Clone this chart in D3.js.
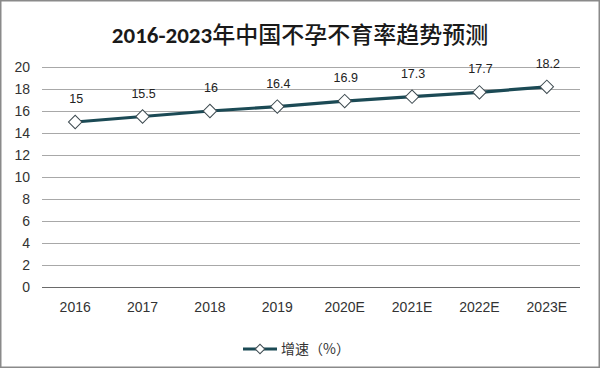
<!DOCTYPE html>
<html><head><meta charset="utf-8">
<script src="https://cdn.jsdelivr.net/npm/d3@7"></script>
<style>body{margin:0;background:#fff;}svg{display:block;}</style>
</head><body>
<svg id="c" width="600" height="368"></svg>
<script>
const categories = ["2016","2017","2018","2019","2020E","2021E","2022E","2023E"];
const values = [15, 15.5, 16, 16.4, 16.9, 17.3, 17.7, 18.2];
const yTicks = [0,2,4,6,8,10,12,14,16,18,20];
const titleYears = "2016-2023";
const titleRest = "年中国不孕不育率趋势预测";
const seriesName = "增速（%）";

const svg = d3.select("#c");
const font = "'Liberation Sans', Arial, 'Noto Sans CJK SC', sans-serif";
svg.append("rect").attr("x",0.75).attr("y",0.75).attr("width",598.5).attr("height",366.5)
  .attr("fill","#fff").attr("stroke","#8a8a8a").attr("stroke-width",1.5);

const t = svg.append("text").attr("x",300).attr("y",43).attr("text-anchor","middle")
  .attr("font-size",23).attr("fill","#1a1a1a");
t.append("tspan").attr("font-family","Carlito, 'Liberation Sans', sans-serif").attr("font-weight","bold").text(titleYears);
t.append("tspan").attr("font-family","'Noto Sans CJK SC', sans-serif").attr("font-weight",500).text(titleRest);

const x = d3.scaleBand().domain(categories).range([41.5,580.5]);
const y = d3.scaleLinear().domain([0,20]).range([287,67]);

const grid = svg.append("g");
grid.selectAll("line").data(yTicks).join("line")
  .attr("x1",42).attr("x2",580).attr("y1",d=>Math.round(y(d))+0.5).attr("y2",d=>Math.round(y(d))+0.5)
  .attr("stroke",d=>d===0?"#6a6a6a":"#a8a8a8").attr("stroke-width",1);

const yAxis = svg.append("g").attr("transform","translate(30,0)")
  .call(d3.axisLeft(y).tickValues(yTicks).tickSize(0).tickPadding(0));
yAxis.select(".domain").remove();
yAxis.selectAll("text").attr("font-family",font).attr("font-size",14).attr("fill","#333");

const xAxis = svg.append("g").attr("transform","translate(0,300)")
  .call(d3.axisBottom(x).tickSize(0).tickPadding(2));
xAxis.select(".domain").remove();
xAxis.selectAll("text").attr("font-family",font).attr("font-size",14).attr("fill","#333");

const cx = d=>x(d)+x.bandwidth()/2;
const line = d3.line().x((d,i)=>cx(categories[i])).y(d=>y(d));
svg.append("path").datum(values).attr("d",line).attr("fill","none")
  .attr("stroke","#1b4a55").attr("stroke-width",3.2);

svg.selectAll(".pt").data(values).join("path").attr("class","pt")
  .attr("d",d3.symbol().type(d3.symbolSquare).size(90))
  .attr("transform",(d,i)=>`translate(${cx(categories[i])},${y(d)}) rotate(45)`)
  .attr("fill","#fff").attr("stroke","#3d4a50").attr("stroke-width",1);

svg.selectAll(".lbl").data(values).join("text").attr("class","lbl")
  .attr("x",(d,i)=>cx(categories[i])+1).attr("y",d=>y(d)-19)
  .attr("text-anchor","middle").attr("font-family",font).attr("font-size",12.5)
  .attr("fill","#222").text(d=>d);

const lg = svg.append("g");
lg.append("line").attr("x1",243).attr("x2",277).attr("y1",349).attr("y2",349)
  .attr("stroke","#1b4a55").attr("stroke-width",3.2);
lg.append("path").attr("d",d3.symbol().type(d3.symbolSquare).size(45))
  .attr("transform","translate(260,349) rotate(45)").attr("fill","#fff").attr("stroke","#3d4a50").attr("stroke-width",1);
lg.append("text").attr("x",281).attr("y",354).attr("font-family","'Noto Sans CJK SC', sans-serif")
  .attr("font-size",14).attr("fill","#333").text(seriesName);
</script>
</body></html>
